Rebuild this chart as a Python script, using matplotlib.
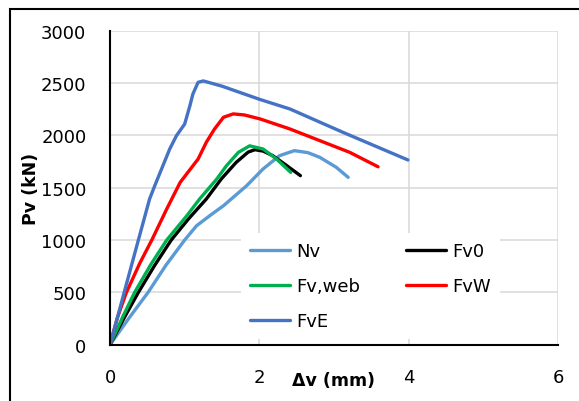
import matplotlib

matplotlib.use("Agg")
import matplotlib.pyplot as plt
from matplotlib.patches import Rectangle

# --- Data (Δv in mm, Pv in kN) ---------------------------------------------
nv_x = [0.0, 0.25, 0.51, 0.75, 1.00, 1.16, 1.35, 1.52, 1.83, 2.05, 2.27, 2.47, 2.65, 2.81, 3.03, 3.19]
nv_y = [0, 250, 500, 760, 1000, 1137, 1240, 1328, 1519, 1679, 1806, 1854, 1835, 1790, 1695, 1599]

fv0_x = [0.0, 0.20, 0.38, 0.60, 0.82, 1.05, 1.29, 1.49, 1.69, 1.85, 1.94, 2.05, 2.18, 2.35, 2.55]
fv0_y = [0, 270, 500, 760, 1000, 1201, 1392, 1583, 1742, 1840, 1863, 1850, 1806, 1720, 1615]

fvweb_x = [0.0, 0.18, 0.33, 0.55, 0.76, 1.03, 1.20, 1.43, 1.56, 1.72, 1.87, 2.05, 2.23, 2.42]
fvweb_y = [0, 280, 500, 770, 1000, 1233, 1392, 1583, 1710, 1838, 1900, 1870, 1774, 1647]

fvw_x = [0.0, 0.10, 0.22, 0.40, 0.56, 0.76, 0.94, 1.18, 1.29, 1.40, 1.52, 1.65, 1.80, 2.01, 2.41, 3.21, 3.59]
fvw_y = [0, 260, 500, 780, 1000, 1297, 1551, 1774, 1934, 2061, 2173, 2205, 2195, 2157, 2061, 1838, 1700]

fve_x = [0.0, 0.10, 0.19, 0.38, 0.53, 0.60, 0.80, 0.89, 1.00, 1.07, 1.11, 1.18, 1.25, 1.50, 2.00, 2.41, 3.12, 3.99]
fve_y = [0, 260, 500, 1000, 1392, 1520, 1870, 1997, 2108, 2283, 2395, 2507, 2520, 2470, 2345, 2252, 2029, 1765]

series = [
    ("Nv", nv_x, nv_y, "#5B9BD5"),
    ("Fv,web", fvweb_x, fvweb_y, "#00B050"),
    ("FvE", fve_x, fve_y, "#4472C4"),
    ("Fv0", fv0_x, fv0_y, "#000000"),
    ("FvW", fvw_x, fvw_y, "#FF0000"),
]
draw_order = ["Nv", "Fv0", "Fv,web", "FvW", "FvE"]

W, H = 579, 402
fig = plt.figure(figsize=(W / 100, H / 100), dpi=100)
ax = fig.add_axes([110 / W, 1 - 345.7 / H, 448 / W, 314 / H])

lines = {}
for name, xs, ys, col in series:
    (ln,) = ax.plot(xs, ys, color=col, linewidth=2.4, label=name,
                    solid_capstyle="round", solid_joinstyle="round",
                    zorder=3 + draw_order.index(name))
    lines[name] = ln

ax.set_xlim(0, 6)
ax.set_ylim(0, 3000)
ax.set_xticks([0, 2, 4, 6])
ax.set_yticks(range(0, 3001, 500))
ax.grid(True, color="#D9D9D9", linewidth=1.1)
ax.set_axisbelow(True)
ax.tick_params(length=0, labelsize=13, pad=17)
for s in ("top", "right"):
    ax.spines[s].set_visible(False)
for s in ("left", "bottom"):
    ax.spines[s].set_linewidth(1.5)
    ax.spines[s].set_color("black")
    ax.spines[s].set_zorder(10)

ax.set_xlabel("Δv (mm)", fontsize=12.5, fontweight="bold")
ax.set_ylabel("Pv (kN)", fontsize=12.5, fontweight="bold")
ax.xaxis.set_label_coords(0.5, -0.084)
ax.yaxis.set_label_coords(-0.156, 0.5)

leg = ax.legend(
    [lines[n] for n, *_ in series], [n for n, *_ in series],
    ncol=2, loc="upper left",
    bbox_to_anchor=((241 - 110) / 448, (345.7 - 234) / 314),
    fontsize=13, frameon=True, fancybox=False, framealpha=1,
    handlelength=2.2, handletextpad=0.35, columnspacing=2.55,
    labelspacing=0.95, borderpad=0.5, borderaxespad=0,
)
leg.get_frame().set_edgecolor("none")
leg.get_frame().set_facecolor("white")

# chart border (right and bottom edges fall outside the image)
fig.patches.append(Rectangle((10 / W, -0.1), 1.2, (H - 9.5) / H + 0.1,
                             transform=fig.transFigure, fill=False,
                             edgecolor="black", linewidth=1.5))

fig.savefig("out.png", dpi=100)
